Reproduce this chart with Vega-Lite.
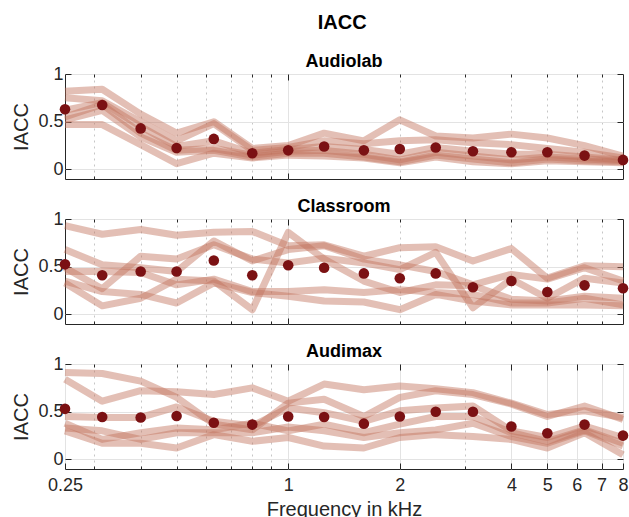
{
  "$schema": "https://vega.github.io/schema/vega-lite/v6.json",
  "padding": {"left": 11, "top": 12, "right": 0, "bottom": 0},
  "title": {"text": "IACC", "fontSize": 20, "fontWeight": "bold", "anchor": "middle", "offset": 20, "dx": 22, "color": "#000000"},
  "spacing": 17,
  "datasets": {
    "lines": [
      {"room":"Audiolab","id":"A","f":0.25,"v":0.82},{"room":"Audiolab","id":"A","f":0.315,"v":0.84},{"room":"Audiolab","id":"A","f":0.4,"v":0.58},{"room":"Audiolab","id":"A","f":0.5,"v":0.38},{"room":"Audiolab","id":"A","f":0.63,"v":0.50},{"room":"Audiolab","id":"A","f":0.8,"v":0.22},{"room":"Audiolab","id":"A","f":1,"v":0.25},{"room":"Audiolab","id":"A","f":1.25,"v":0.38},{"room":"Audiolab","id":"A","f":1.6,"v":0.30},{"room":"Audiolab","id":"A","f":2,"v":0.52},{"room":"Audiolab","id":"A","f":2.5,"v":0.35},{"room":"Audiolab","id":"A","f":3.15,"v":0.33},{"room":"Audiolab","id":"A","f":4,"v":0.37},{"room":"Audiolab","id":"A","f":5,"v":0.33},{"room":"Audiolab","id":"A","f":6.3,"v":0.25},{"room":"Audiolab","id":"A","f":8,"v":0.14},
      {"room":"Audiolab","id":"B","f":0.25,"v":0.75},{"room":"Audiolab","id":"B","f":0.315,"v":0.72},{"room":"Audiolab","id":"B","f":0.4,"v":0.50},{"room":"Audiolab","id":"B","f":0.5,"v":0.30},{"room":"Audiolab","id":"B","f":0.63,"v":0.48},{"room":"Audiolab","id":"B","f":0.8,"v":0.20},{"room":"Audiolab","id":"B","f":1,"v":0.23},{"room":"Audiolab","id":"B","f":1.25,"v":0.30},{"room":"Audiolab","id":"B","f":1.6,"v":0.27},{"room":"Audiolab","id":"B","f":2,"v":0.30},{"room":"Audiolab","id":"B","f":2.5,"v":0.31},{"room":"Audiolab","id":"B","f":3.15,"v":0.28},{"room":"Audiolab","id":"B","f":4,"v":0.26},{"room":"Audiolab","id":"B","f":5,"v":0.22},{"room":"Audiolab","id":"B","f":6.3,"v":0.18},{"room":"Audiolab","id":"B","f":8,"v":0.12},
      {"room":"Audiolab","id":"C","f":0.25,"v":0.62},{"room":"Audiolab","id":"C","f":0.315,"v":0.70},{"room":"Audiolab","id":"C","f":0.4,"v":0.45},{"room":"Audiolab","id":"C","f":0.5,"v":0.24},{"room":"Audiolab","id":"C","f":0.63,"v":0.30},{"room":"Audiolab","id":"C","f":0.8,"v":0.17},{"room":"Audiolab","id":"C","f":1,"v":0.21},{"room":"Audiolab","id":"C","f":1.25,"v":0.24},{"room":"Audiolab","id":"C","f":1.6,"v":0.21},{"room":"Audiolab","id":"C","f":2,"v":0.16},{"room":"Audiolab","id":"C","f":2.5,"v":0.23},{"room":"Audiolab","id":"C","f":3.15,"v":0.19},{"room":"Audiolab","id":"C","f":4,"v":0.16},{"room":"Audiolab","id":"C","f":5,"v":0.16},{"room":"Audiolab","id":"C","f":6.3,"v":0.13},{"room":"Audiolab","id":"C","f":8,"v":0.10},
      {"room":"Audiolab","id":"D","f":0.25,"v":0.55},{"room":"Audiolab","id":"D","f":0.315,"v":0.68},{"room":"Audiolab","id":"D","f":0.4,"v":0.38},{"room":"Audiolab","id":"D","f":0.5,"v":0.20},{"room":"Audiolab","id":"D","f":0.63,"v":0.22},{"room":"Audiolab","id":"D","f":0.8,"v":0.15},{"room":"Audiolab","id":"D","f":1,"v":0.19},{"room":"Audiolab","id":"D","f":1.25,"v":0.20},{"room":"Audiolab","id":"D","f":1.6,"v":0.16},{"room":"Audiolab","id":"D","f":2,"v":0.10},{"room":"Audiolab","id":"D","f":2.5,"v":0.18},{"room":"Audiolab","id":"D","f":3.15,"v":0.14},{"room":"Audiolab","id":"D","f":4,"v":0.10},{"room":"Audiolab","id":"D","f":5,"v":0.13},{"room":"Audiolab","id":"D","f":6.3,"v":0.11},{"room":"Audiolab","id":"D","f":8,"v":0.09},
      {"room":"Audiolab","id":"E","f":0.25,"v":0.52},{"room":"Audiolab","id":"E","f":0.315,"v":0.62},{"room":"Audiolab","id":"E","f":0.4,"v":0.34},{"room":"Audiolab","id":"E","f":0.5,"v":0.18},{"room":"Audiolab","id":"E","f":0.63,"v":0.20},{"room":"Audiolab","id":"E","f":0.8,"v":0.13},{"room":"Audiolab","id":"E","f":1,"v":0.17},{"room":"Audiolab","id":"E","f":1.25,"v":0.17},{"room":"Audiolab","id":"E","f":1.6,"v":0.13},{"room":"Audiolab","id":"E","f":2,"v":0.08},{"room":"Audiolab","id":"E","f":2.5,"v":0.15},{"room":"Audiolab","id":"E","f":3.15,"v":0.11},{"room":"Audiolab","id":"E","f":4,"v":0.07},{"room":"Audiolab","id":"E","f":5,"v":0.11},{"room":"Audiolab","id":"E","f":6.3,"v":0.09},{"room":"Audiolab","id":"E","f":8,"v":0.08},
      {"room":"Audiolab","id":"F","f":0.25,"v":0.47},{"room":"Audiolab","id":"F","f":0.315,"v":0.47},{"room":"Audiolab","id":"F","f":0.4,"v":0.26},{"room":"Audiolab","id":"F","f":0.5,"v":0.06},{"room":"Audiolab","id":"F","f":0.63,"v":0.17},{"room":"Audiolab","id":"F","f":0.8,"v":0.12},{"room":"Audiolab","id":"F","f":1,"v":0.15},{"room":"Audiolab","id":"F","f":1.25,"v":0.14},{"room":"Audiolab","id":"F","f":1.6,"v":0.12},{"room":"Audiolab","id":"F","f":2,"v":0.07},{"room":"Audiolab","id":"F","f":2.5,"v":0.13},{"room":"Audiolab","id":"F","f":3.15,"v":0.08},{"room":"Audiolab","id":"F","f":4,"v":0.06},{"room":"Audiolab","id":"F","f":5,"v":0.09},{"room":"Audiolab","id":"F","f":6.3,"v":0.08},{"room":"Audiolab","id":"F","f":8,"v":0.07},

      {"room":"Classroom","id":"A","f":0.25,"v":0.93},{"room":"Classroom","id":"A","f":0.315,"v":0.84},{"room":"Classroom","id":"A","f":0.4,"v":0.89},{"room":"Classroom","id":"A","f":0.5,"v":0.83},{"room":"Classroom","id":"A","f":0.63,"v":0.86},{"room":"Classroom","id":"A","f":0.8,"v":0.87},{"room":"Classroom","id":"A","f":1,"v":0.72},{"room":"Classroom","id":"A","f":1.25,"v":0.73},{"room":"Classroom","id":"A","f":1.6,"v":0.61},{"room":"Classroom","id":"A","f":2,"v":0.70},{"room":"Classroom","id":"A","f":2.5,"v":0.71},{"room":"Classroom","id":"A","f":3.15,"v":0.56},{"room":"Classroom","id":"A","f":4,"v":0.69},{"room":"Classroom","id":"A","f":5,"v":0.38},{"room":"Classroom","id":"A","f":6.3,"v":0.51},{"room":"Classroom","id":"A","f":8,"v":0.50},
      {"room":"Classroom","id":"B","f":0.25,"v":0.68},{"room":"Classroom","id":"B","f":0.315,"v":0.52},{"room":"Classroom","id":"B","f":0.4,"v":0.49},{"room":"Classroom","id":"B","f":0.5,"v":0.45},{"room":"Classroom","id":"B","f":0.63,"v":0.77},{"room":"Classroom","id":"B","f":0.8,"v":0.56},{"room":"Classroom","id":"B","f":1,"v":0.68},{"room":"Classroom","id":"B","f":1.25,"v":0.72},{"room":"Classroom","id":"B","f":1.6,"v":0.58},{"room":"Classroom","id":"B","f":2,"v":0.52},{"room":"Classroom","id":"B","f":2.5,"v":0.45},{"room":"Classroom","id":"B","f":3.15,"v":0.31},{"room":"Classroom","id":"B","f":4,"v":0.42},{"room":"Classroom","id":"B","f":5,"v":0.37},{"room":"Classroom","id":"B","f":6.3,"v":0.49},{"room":"Classroom","id":"B","f":8,"v":0.35},
      {"room":"Classroom","id":"C","f":0.25,"v":0.49},{"room":"Classroom","id":"C","f":0.315,"v":0.27},{"room":"Classroom","id":"C","f":0.4,"v":0.61},{"room":"Classroom","id":"C","f":0.5,"v":0.58},{"room":"Classroom","id":"C","f":0.63,"v":0.73},{"room":"Classroom","id":"C","f":0.8,"v":0.58},{"room":"Classroom","id":"C","f":1,"v":0.54},{"room":"Classroom","id":"C","f":1.25,"v":0.59},{"room":"Classroom","id":"C","f":1.6,"v":0.54},{"room":"Classroom","id":"C","f":2,"v":0.47},{"room":"Classroom","id":"C","f":2.5,"v":0.65},{"room":"Classroom","id":"C","f":3.15,"v":0.07},{"room":"Classroom","id":"C","f":4,"v":0.37},{"room":"Classroom","id":"C","f":5,"v":0.17},{"room":"Classroom","id":"C","f":6.3,"v":0.38},{"room":"Classroom","id":"C","f":8,"v":0.33},
      {"room":"Classroom","id":"D","f":0.25,"v":0.33},{"room":"Classroom","id":"D","f":0.315,"v":0.09},{"room":"Classroom","id":"D","f":0.4,"v":0.17},{"room":"Classroom","id":"D","f":0.5,"v":0.37},{"room":"Classroom","id":"D","f":0.63,"v":0.35},{"room":"Classroom","id":"D","f":0.8,"v":0.05},{"room":"Classroom","id":"D","f":1,"v":0.86},{"room":"Classroom","id":"D","f":1.25,"v":0.58},{"room":"Classroom","id":"D","f":1.6,"v":0.35},{"room":"Classroom","id":"D","f":2,"v":0.23},{"room":"Classroom","id":"D","f":2.5,"v":0.31},{"room":"Classroom","id":"D","f":3.15,"v":0.30},{"room":"Classroom","id":"D","f":4,"v":0.16},{"room":"Classroom","id":"D","f":5,"v":0.14},{"room":"Classroom","id":"D","f":6.3,"v":0.19},{"room":"Classroom","id":"D","f":8,"v":0.17},
      {"room":"Classroom","id":"E","f":0.25,"v":0.45},{"room":"Classroom","id":"E","f":0.315,"v":0.45},{"room":"Classroom","id":"E","f":0.4,"v":0.44},{"room":"Classroom","id":"E","f":0.5,"v":0.31},{"room":"Classroom","id":"E","f":0.63,"v":0.37},{"room":"Classroom","id":"E","f":0.8,"v":0.24},{"room":"Classroom","id":"E","f":1,"v":0.24},{"room":"Classroom","id":"E","f":1.25,"v":0.26},{"room":"Classroom","id":"E","f":1.6,"v":0.23},{"room":"Classroom","id":"E","f":2,"v":0.26},{"room":"Classroom","id":"E","f":2.5,"v":0.23},{"room":"Classroom","id":"E","f":3.15,"v":0.21},{"room":"Classroom","id":"E","f":4,"v":0.12},{"room":"Classroom","id":"E","f":5,"v":0.12},{"room":"Classroom","id":"E","f":6.3,"v":0.17},{"room":"Classroom","id":"E","f":8,"v":0.10},
      {"room":"Classroom","id":"F","f":0.25,"v":0.35},{"room":"Classroom","id":"F","f":0.315,"v":0.24},{"room":"Classroom","id":"F","f":0.4,"v":0.21},{"room":"Classroom","id":"F","f":0.5,"v":0.12},{"room":"Classroom","id":"F","f":0.63,"v":0.33},{"room":"Classroom","id":"F","f":0.8,"v":0.23},{"room":"Classroom","id":"F","f":1,"v":0.19},{"room":"Classroom","id":"F","f":1.25,"v":0.14},{"room":"Classroom","id":"F","f":1.6,"v":0.13},{"room":"Classroom","id":"F","f":2,"v":0.05},{"room":"Classroom","id":"F","f":2.5,"v":0.21},{"room":"Classroom","id":"F","f":3.15,"v":0.14},{"room":"Classroom","id":"F","f":4,"v":0.10},{"room":"Classroom","id":"F","f":5,"v":0.10},{"room":"Classroom","id":"F","f":6.3,"v":0.10},{"room":"Classroom","id":"F","f":8,"v":0.09},

      {"room":"Audimax","id":"A","f":0.25,"v":0.91},{"room":"Audimax","id":"A","f":0.315,"v":0.90},{"room":"Audimax","id":"A","f":0.4,"v":0.82},{"room":"Audimax","id":"A","f":0.5,"v":0.65},{"room":"Audimax","id":"A","f":0.63,"v":0.37},{"room":"Audimax","id":"A","f":0.8,"v":0.31},{"room":"Audimax","id":"A","f":1,"v":0.59},{"room":"Audimax","id":"A","f":1.25,"v":0.63},{"room":"Audimax","id":"A","f":1.6,"v":0.45},{"room":"Audimax","id":"A","f":2,"v":0.65},{"room":"Audimax","id":"A","f":2.5,"v":0.72},{"room":"Audimax","id":"A","f":3.15,"v":0.68},{"room":"Audimax","id":"A","f":4,"v":0.58},{"room":"Audimax","id":"A","f":5,"v":0.45},{"room":"Audimax","id":"A","f":6.3,"v":0.56},{"room":"Audimax","id":"A","f":8,"v":0.42},
      {"room":"Audimax","id":"B","f":0.25,"v":0.84},{"room":"Audimax","id":"B","f":0.315,"v":0.61},{"room":"Audimax","id":"B","f":0.4,"v":0.72},{"room":"Audimax","id":"B","f":0.5,"v":0.71},{"room":"Audimax","id":"B","f":0.63,"v":0.68},{"room":"Audimax","id":"B","f":0.8,"v":0.75},{"room":"Audimax","id":"B","f":1,"v":0.61},{"room":"Audimax","id":"B","f":1.25,"v":0.79},{"room":"Audimax","id":"B","f":1.6,"v":0.73},{"room":"Audimax","id":"B","f":2,"v":0.77},{"room":"Audimax","id":"B","f":2.5,"v":0.74},{"room":"Audimax","id":"B","f":3.15,"v":0.70},{"room":"Audimax","id":"B","f":4,"v":0.59},{"room":"Audimax","id":"B","f":5,"v":0.47},{"room":"Audimax","id":"B","f":6.3,"v":0.51},{"room":"Audimax","id":"B","f":8,"v":0.44},
      {"room":"Audimax","id":"C","f":0.25,"v":0.45},{"room":"Audimax","id":"C","f":0.315,"v":0.44},{"room":"Audimax","id":"C","f":0.4,"v":0.44},{"room":"Audimax","id":"C","f":0.5,"v":0.55},{"room":"Audimax","id":"C","f":0.63,"v":0.40},{"room":"Audimax","id":"C","f":0.8,"v":0.35},{"room":"Audimax","id":"C","f":1,"v":0.54},{"room":"Audimax","id":"C","f":1.25,"v":0.49},{"room":"Audimax","id":"C","f":1.6,"v":0.40},{"room":"Audimax","id":"C","f":2,"v":0.51},{"room":"Audimax","id":"C","f":2.5,"v":0.54},{"room":"Audimax","id":"C","f":3.15,"v":0.56},{"room":"Audimax","id":"C","f":4,"v":0.30},{"room":"Audimax","id":"C","f":5,"v":0.23},{"room":"Audimax","id":"C","f":6.3,"v":0.35},{"room":"Audimax","id":"C","f":8,"v":0.23},
      {"room":"Audimax","id":"D","f":0.25,"v":0.38},{"room":"Audimax","id":"D","f":0.315,"v":0.21},{"room":"Audimax","id":"D","f":0.4,"v":0.28},{"room":"Audimax","id":"D","f":0.5,"v":0.33},{"room":"Audimax","id":"D","f":0.63,"v":0.31},{"room":"Audimax","id":"D","f":0.8,"v":0.38},{"room":"Audimax","id":"D","f":1,"v":0.30},{"room":"Audimax","id":"D","f":1.25,"v":0.37},{"room":"Audimax","id":"D","f":1.6,"v":0.28},{"room":"Audimax","id":"D","f":2,"v":0.37},{"room":"Audimax","id":"D","f":2.5,"v":0.45},{"room":"Audimax","id":"D","f":3.15,"v":0.45},{"room":"Audimax","id":"D","f":4,"v":0.28},{"room":"Audimax","id":"D","f":5,"v":0.19},{"room":"Audimax","id":"D","f":6.3,"v":0.31},{"room":"Audimax","id":"D","f":8,"v":0.17},
      {"room":"Audimax","id":"E","f":0.25,"v":0.33},{"room":"Audimax","id":"E","f":0.315,"v":0.30},{"room":"Audimax","id":"E","f":0.4,"v":0.21},{"room":"Audimax","id":"E","f":0.5,"v":0.28},{"room":"Audimax","id":"E","f":0.63,"v":0.28},{"room":"Audimax","id":"E","f":0.8,"v":0.28},{"room":"Audimax","id":"E","f":1,"v":0.34},{"room":"Audimax","id":"E","f":1.25,"v":0.30},{"room":"Audimax","id":"E","f":1.6,"v":0.23},{"room":"Audimax","id":"E","f":2,"v":0.28},{"room":"Audimax","id":"E","f":2.5,"v":0.31},{"room":"Audimax","id":"E","f":3.15,"v":0.38},{"room":"Audimax","id":"E","f":4,"v":0.24},{"room":"Audimax","id":"E","f":5,"v":0.17},{"room":"Audimax","id":"E","f":6.3,"v":0.30},{"room":"Audimax","id":"E","f":8,"v":0.14},
      {"room":"Audimax","id":"F","f":0.25,"v":0.30},{"room":"Audimax","id":"F","f":0.315,"v":0.17},{"room":"Audimax","id":"F","f":0.4,"v":0.17},{"room":"Audimax","id":"F","f":0.5,"v":0.12},{"room":"Audimax","id":"F","f":0.63,"v":0.26},{"room":"Audimax","id":"F","f":0.8,"v":0.19},{"room":"Audimax","id":"F","f":1,"v":0.23},{"room":"Audimax","id":"F","f":1.25,"v":0.14},{"room":"Audimax","id":"F","f":1.6,"v":0.12},{"room":"Audimax","id":"F","f":2,"v":0.23},{"room":"Audimax","id":"F","f":2.5,"v":0.26},{"room":"Audimax","id":"F","f":3.15,"v":0.24},{"room":"Audimax","id":"F","f":4,"v":0.21},{"room":"Audimax","id":"F","f":5,"v":0.12},{"room":"Audimax","id":"F","f":6.3,"v":0.28},{"room":"Audimax","id":"F","f":8,"v":0.05}
    ],
    "means": [
      {"room":"Audiolab","f":0.25,"v":0.63},{"room":"Audiolab","f":0.315,"v":0.675},{"room":"Audiolab","f":0.4,"v":0.43},{"room":"Audiolab","f":0.5,"v":0.225},{"room":"Audiolab","f":0.63,"v":0.32},{"room":"Audiolab","f":0.8,"v":0.17},{"room":"Audiolab","f":1,"v":0.2},{"room":"Audiolab","f":1.25,"v":0.24},{"room":"Audiolab","f":1.6,"v":0.2},{"room":"Audiolab","f":2,"v":0.215},{"room":"Audiolab","f":2.5,"v":0.23},{"room":"Audiolab","f":3.15,"v":0.19},{"room":"Audiolab","f":4,"v":0.18},{"room":"Audiolab","f":5,"v":0.18},{"room":"Audiolab","f":6.3,"v":0.145},{"room":"Audiolab","f":8,"v":0.1},
      {"room":"Classroom","f":0.25,"v":0.525},{"room":"Classroom","f":0.315,"v":0.41},{"room":"Classroom","f":0.4,"v":0.45},{"room":"Classroom","f":0.5,"v":0.45},{"room":"Classroom","f":0.63,"v":0.565},{"room":"Classroom","f":0.8,"v":0.41},{"room":"Classroom","f":1,"v":0.515},{"room":"Classroom","f":1.25,"v":0.49},{"room":"Classroom","f":1.6,"v":0.43},{"room":"Classroom","f":2,"v":0.38},{"room":"Classroom","f":2.5,"v":0.43},{"room":"Classroom","f":3.15,"v":0.285},{"room":"Classroom","f":4,"v":0.35},{"room":"Classroom","f":5,"v":0.235},{"room":"Classroom","f":6.3,"v":0.305},{"room":"Classroom","f":8,"v":0.275},
      {"room":"Audimax","f":0.25,"v":0.53},{"room":"Audimax","f":0.315,"v":0.445},{"room":"Audimax","f":0.4,"v":0.44},{"room":"Audimax","f":0.5,"v":0.455},{"room":"Audimax","f":0.63,"v":0.385},{"room":"Audimax","f":0.8,"v":0.365},{"room":"Audimax","f":1,"v":0.45},{"room":"Audimax","f":1.25,"v":0.445},{"room":"Audimax","f":1.6,"v":0.375},{"room":"Audimax","f":2,"v":0.45},{"room":"Audimax","f":2.5,"v":0.5},{"room":"Audimax","f":3.15,"v":0.5},{"room":"Audimax","f":4,"v":0.345},{"room":"Audimax","f":5,"v":0.275},{"room":"Audimax","f":6.3,"v":0.365},{"room":"Audimax","f":8,"v":0.25}
    ]
  },
  "vconcat": [
    {
      "title": {"text": "Audiolab"},
      "width": 558, "height": 105,
      "layer": [
        {
          "data": {"name": "lines"},
          "transform": [{"filter": "datum.room === 'Audiolab'"}],
          "mark": {"type": "line", "color": "#C0705A", "opacity": 0.45, "strokeWidth": 7, "strokeJoin": "round", "strokeCap": "butt"},
          "encoding": {
            "x": {"field": "f", "type": "quantitative", "scale": {"type": "log", "domain": [0.25, 8], "nice": false},
                  "axis": {"orient": "bottom", "values": [1], "grid": true, "tickSize": -6, "labels": false, "title": null}},
            "y": {"field": "v", "type": "quantitative", "scale": {"domain": [-0.1, 1], "nice": false, "zero": false},
                  "axis": {"orient": "left", "values": [0, 0.5, 1], "grid": true, "tickSize": -6, "format": "~g", "labelPadding": 8, "title": "IACC", "titlePadding": 6}},
            "detail": {"field": "id"}
          }
        },
        {
          "data": {"name": "means"},
          "transform": [{"filter": "datum.room === 'Audiolab'"}],
          "mark": {"type": "circle", "color": "#7B1113", "opacity": 1, "size": 112},
          "encoding": {
            "x": {"field": "f", "type": "quantitative", "axis": {"orient": "bottom", "values": [0.3,0.4,0.5,0.6,0.7,0.8,0.9,2,3,4,5,6,7], "grid": true, "gridColor": "#C6C6C6", "gridDash": [2, 4], "tickSize": -3, "labels": false, "title": null}},
            "y": {"field": "v", "type": "quantitative", "axis": {"orient": "right", "values": [0, 0.5, 1], "grid": false, "tickSize": -6, "labels": false, "title": null}}
          }
        },
        {
          "data": {"name": "means"},
          "transform": [{"filter": "datum.room === 'Audiolab'"}],
          "mark": {"type": "circle", "opacity": 0},
          "encoding": {
            "x": {"field": "f", "type": "quantitative", "axis": {"orient": "top", "values": [1], "grid": false, "tickSize": -6, "labels": false, "title": null}},
            "y": {"field": "v", "type": "quantitative", "axis": null}
          }
        },
        {
          "data": {"name": "means"},
          "transform": [{"filter": "datum.room === 'Audiolab'"}],
          "mark": {"type": "circle", "opacity": 0},
          "encoding": {
            "x": {"field": "f", "type": "quantitative", "axis": {"orient": "top", "values": [0.3,0.4,0.5,0.6,0.7,0.8,0.9,2,3,4,5,6,7], "grid": false, "tickSize": -3, "labels": false, "title": null}},
            "y": {"field": "v", "type": "quantitative", "axis": null}
          }
        }
      ],
      "resolve": {"axis": {"x": "independent", "y": "independent"}}
    },
    {
      "title": {"text": "Classroom"},
      "width": 558, "height": 105,
      "layer": [
        {
          "data": {"name": "lines"},
          "transform": [{"filter": "datum.room === 'Classroom'"}],
          "mark": {"type": "line", "color": "#C0705A", "opacity": 0.45, "strokeWidth": 7, "strokeJoin": "round", "strokeCap": "butt"},
          "encoding": {
            "x": {"field": "f", "type": "quantitative", "scale": {"type": "log", "domain": [0.25, 8], "nice": false},
                  "axis": {"orient": "bottom", "values": [1], "grid": true, "tickSize": -6, "labels": false, "title": null}},
            "y": {"field": "v", "type": "quantitative", "scale": {"domain": [-0.1, 1], "nice": false, "zero": false},
                  "axis": {"orient": "left", "values": [0, 0.5, 1], "grid": true, "tickSize": -6, "format": "~g", "labelPadding": 8, "title": "IACC", "titlePadding": 6}},
            "detail": {"field": "id"}
          }
        },
        {
          "data": {"name": "means"},
          "transform": [{"filter": "datum.room === 'Classroom'"}],
          "mark": {"type": "circle", "color": "#7B1113", "opacity": 1, "size": 112},
          "encoding": {
            "x": {"field": "f", "type": "quantitative", "axis": {"orient": "bottom", "values": [0.3,0.4,0.5,0.6,0.7,0.8,0.9,2,3,4,5,6,7], "grid": true, "gridColor": "#C6C6C6", "gridDash": [2, 4], "tickSize": -3, "labels": false, "title": null}},
            "y": {"field": "v", "type": "quantitative", "axis": {"orient": "right", "values": [0, 0.5, 1], "grid": false, "tickSize": -6, "labels": false, "title": null}}
          }
        },
        {
          "data": {"name": "means"},
          "transform": [{"filter": "datum.room === 'Classroom'"}],
          "mark": {"type": "circle", "opacity": 0},
          "encoding": {
            "x": {"field": "f", "type": "quantitative", "axis": {"orient": "top", "values": [1], "grid": false, "tickSize": -6, "labels": false, "title": null}},
            "y": {"field": "v", "type": "quantitative", "axis": null}
          }
        },
        {
          "data": {"name": "means"},
          "transform": [{"filter": "datum.room === 'Classroom'"}],
          "mark": {"type": "circle", "opacity": 0},
          "encoding": {
            "x": {"field": "f", "type": "quantitative", "axis": {"orient": "top", "values": [0.3,0.4,0.5,0.6,0.7,0.8,0.9,2,3,4,5,6,7], "grid": false, "tickSize": -3, "labels": false, "title": null}},
            "y": {"field": "v", "type": "quantitative", "axis": null}
          }
        }
      ],
      "resolve": {"axis": {"x": "independent", "y": "independent"}}
    },
    {
      "title": {"text": "Audimax"},
      "width": 558, "height": 105,
      "layer": [
        {
          "data": {"name": "lines"},
          "transform": [{"filter": "datum.room === 'Audimax'"}],
          "mark": {"type": "line", "color": "#C0705A", "opacity": 0.45, "strokeWidth": 7, "strokeJoin": "round", "strokeCap": "butt"},
          "encoding": {
            "x": {"field": "f", "type": "quantitative", "scale": {"type": "log", "domain": [0.25, 8], "nice": false},
                  "axis": {"orient": "bottom", "values": [0.25, 1, 2, 4, 5, 6, 7, 8], "grid": true, "tickSize": -6, "labels": true, "format": "~g", "labelFlush": false, "labelOverlap": false, "labelPadding": 13, "title": "Frequency in kHz", "titlePadding": 5}},
            "y": {"field": "v", "type": "quantitative", "scale": {"domain": [-0.1, 1], "nice": false, "zero": false},
                  "axis": {"orient": "left", "values": [0, 0.5, 1], "grid": true, "tickSize": -6, "format": "~g", "labelPadding": 8, "title": "IACC", "titlePadding": 6}},
            "detail": {"field": "id"}
          }
        },
        {
          "data": {"name": "means"},
          "transform": [{"filter": "datum.room === 'Audimax'"}],
          "mark": {"type": "circle", "color": "#7B1113", "opacity": 1, "size": 112},
          "encoding": {
            "x": {"field": "f", "type": "quantitative", "axis": {"orient": "bottom", "values": [0.3,0.4,0.5,0.6,0.7,0.8,0.9,3], "grid": true, "gridColor": "#C6C6C6", "gridDash": [2, 4], "tickSize": -3, "labels": false, "title": null}},
            "y": {"field": "v", "type": "quantitative", "axis": {"orient": "right", "values": [0, 0.5, 1], "grid": false, "tickSize": -6, "labels": false, "title": null}}
          }
        },
        {
          "data": {"name": "means"},
          "transform": [{"filter": "datum.room === 'Audimax'"}],
          "mark": {"type": "circle", "opacity": 0},
          "encoding": {
            "x": {"field": "f", "type": "quantitative", "axis": {"orient": "top", "values": [1, 2, 4, 5, 6, 7], "grid": false, "tickSize": -6, "labels": false, "title": null}},
            "y": {"field": "v", "type": "quantitative", "axis": null}
          }
        },
        {
          "data": {"name": "means"},
          "transform": [{"filter": "datum.room === 'Audimax'"}],
          "mark": {"type": "circle", "opacity": 0},
          "encoding": {
            "x": {"field": "f", "type": "quantitative", "axis": {"orient": "top", "values": [0.3,0.4,0.5,0.6,0.7,0.8,0.9,3], "grid": false, "tickSize": -3, "labels": false, "title": null}},
            "y": {"field": "v", "type": "quantitative", "axis": null}
          }
        }
      ],
      "resolve": {"axis": {"x": "independent", "y": "independent"}}
    }
  ],
  "config": {
    "font": "Liberation Sans",
    "view": {"stroke": "#262626", "strokeWidth": 1},
    "axis": {
      "domain": false,
      "labelFont": "Liberation Sans", "labelFontSize": 18, "labelColor": "#262626",
      "titleFont": "Liberation Sans", "titleFontSize": 20, "titleFontWeight": "normal", "titleColor": "#262626",
      "tickColor": "#262626", "tickWidth": 1,
      "gridColor": "#E3E3E3", "gridWidth": 1
    },
    "title": {"font": "Liberation Sans", "fontSize": 18, "fontWeight": "bold", "color": "#000000", "offset": -6}
  }
}
